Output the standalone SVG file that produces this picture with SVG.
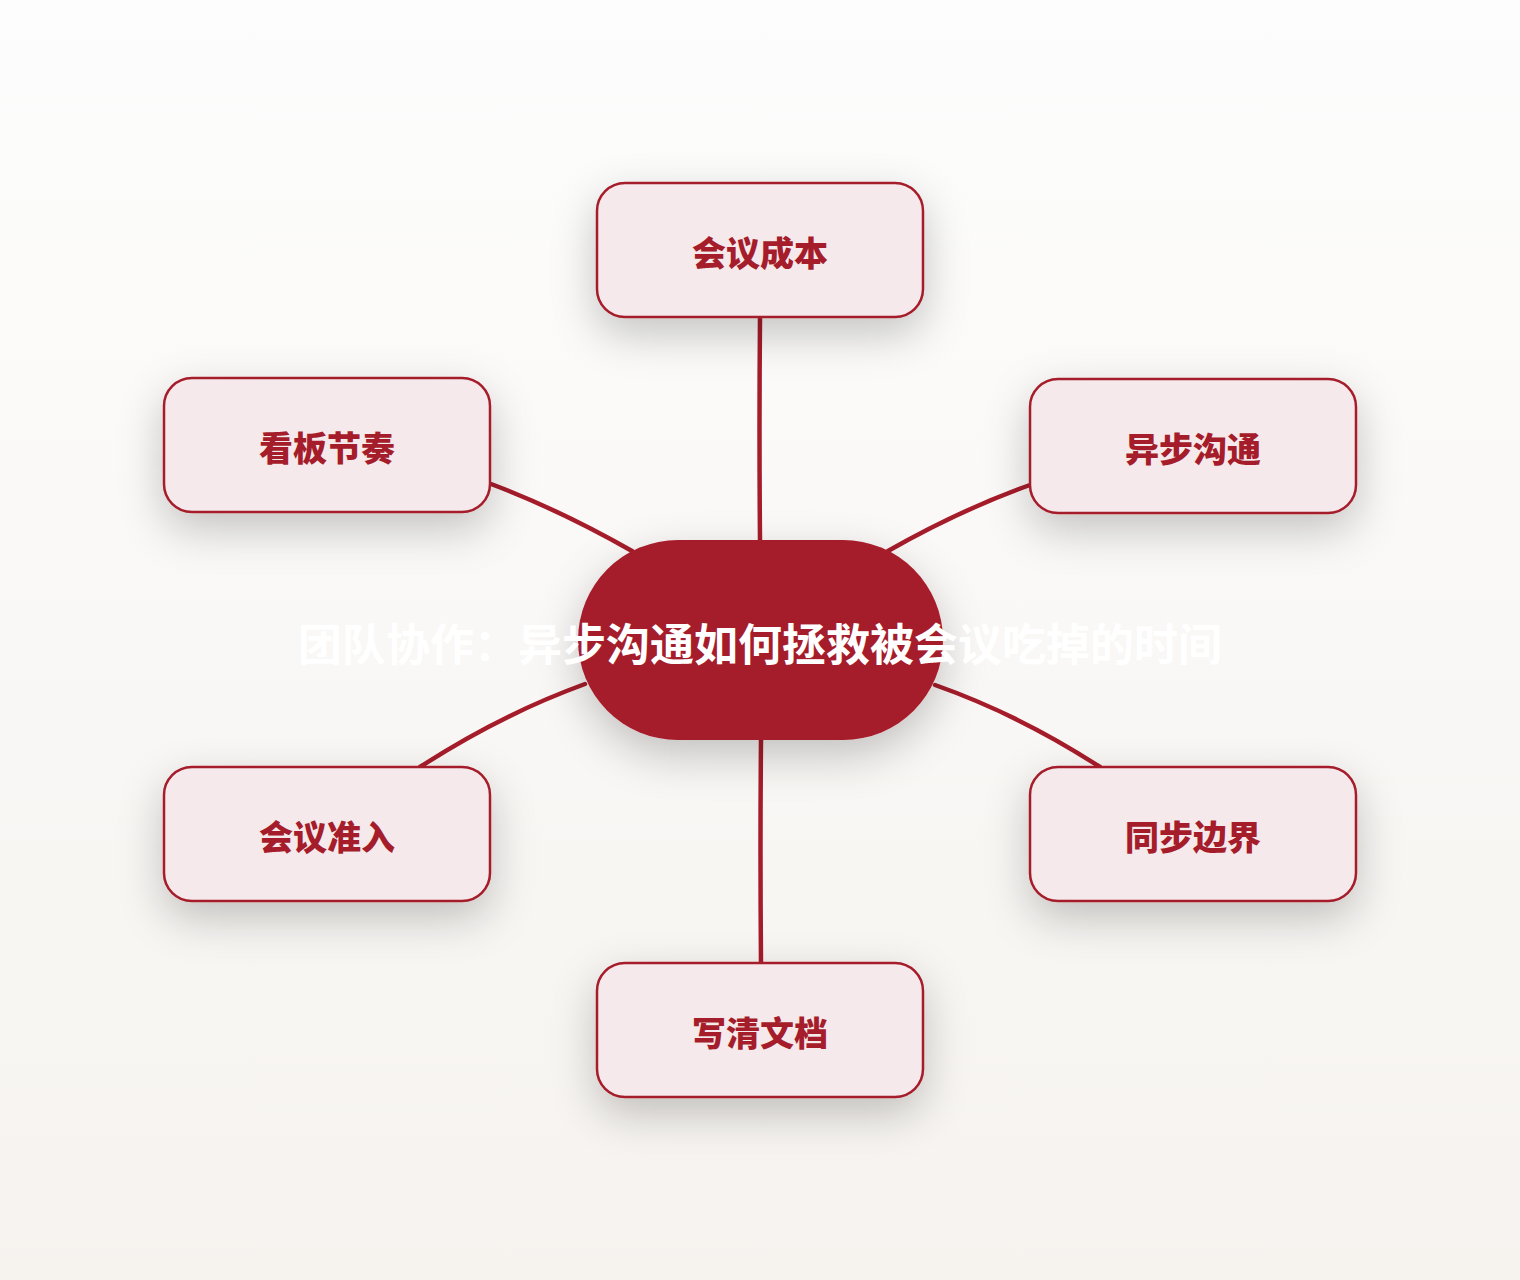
<svg xmlns="http://www.w3.org/2000/svg" width="1520" height="1280" viewBox="0 0 1520 1280">
<defs>
<linearGradient id="bg" x1="0" y1="0" x2="0" y2="1">
<stop offset="0" stop-color="#fdfdfd"/>
<stop offset="1" stop-color="#f6f3ef"/>
</linearGradient>
<filter id="sh" x="-40%" y="-50%" width="180%" height="220%">
<feDropShadow dx="0" dy="16" stdDeviation="22" flood-color="#000" flood-opacity="0.22"/>
</filter>
</defs>
<style>
.node rect{fill:#f5e9eb;stroke:#a51c2a;stroke-width:2.5}
.node text{fill:#a51c2a;font-family:"Noto Sans CJK SC","Noto Sans",sans-serif;font-weight:900;font-size:34px;text-anchor:middle;dominant-baseline:central}
.edge{fill:none;stroke:#a51c2a;stroke-width:4.5;stroke-linecap:round}
.hub rect{fill:#a51c2a}
.hub text{fill:#ffffff;font-family:"Noto Sans CJK SC","Noto Sans",sans-serif;font-weight:700;font-size:44px;text-anchor:middle;dominant-baseline:central}
</style>
<rect x="0" y="0" width="1520" height="1280" fill="url(#bg)"/>
<g id="connectors">
<path class="edge" d="M760 317 Q759 430 760 540"/>
<path class="edge" d="M491 484 Q560 510 632 551"/>
<path class="edge" d="M1030 485 Q960 510 888 551"/>
<path class="edge" d="M585 684 Q500 715 420 767"/>
<path class="edge" d="M935 685 Q1020 715 1100 767"/>
<path class="edge" d="M761 740 Q760 850 761 963"/>
</g>
<g id="hub" class="hub">
<rect x="578" y="540" width="365" height="200" rx="100" filter="url(#sh)"/>
</g>
<g id="n-top" class="node">
<rect x="597" y="183" width="326" height="134" rx="28" filter="url(#sh)"/>
<text x="760" y="251">会议成本</text>
</g>
<g id="n-ul" class="node">
<rect x="164" y="378" width="326" height="134" rx="28" filter="url(#sh)"/>
<text x="327" y="446">看板节奏</text>
</g>
<g id="n-ur" class="node">
<rect x="1030" y="379" width="326" height="134" rx="28" filter="url(#sh)"/>
<text x="1193" y="447">异步沟通</text>
</g>
<g id="n-ll" class="node">
<rect x="164" y="767" width="326" height="134" rx="28" filter="url(#sh)"/>
<text x="327" y="835">会议准入</text>
</g>
<g id="n-lr" class="node">
<rect x="1030" y="767" width="326" height="134" rx="28" filter="url(#sh)"/>
<text x="1193" y="835">同步边界</text>
</g>
<g id="n-bottom" class="node">
<rect x="597" y="963" width="326" height="134" rx="28" filter="url(#sh)"/>
<text x="760" y="1031">写清文档</text>
</g>
<g id="hub-label" class="hub">
<text x="760" y="642">团队协作：异步沟通如何拯救被会议吃掉的时间</text>
</g>
</svg>
